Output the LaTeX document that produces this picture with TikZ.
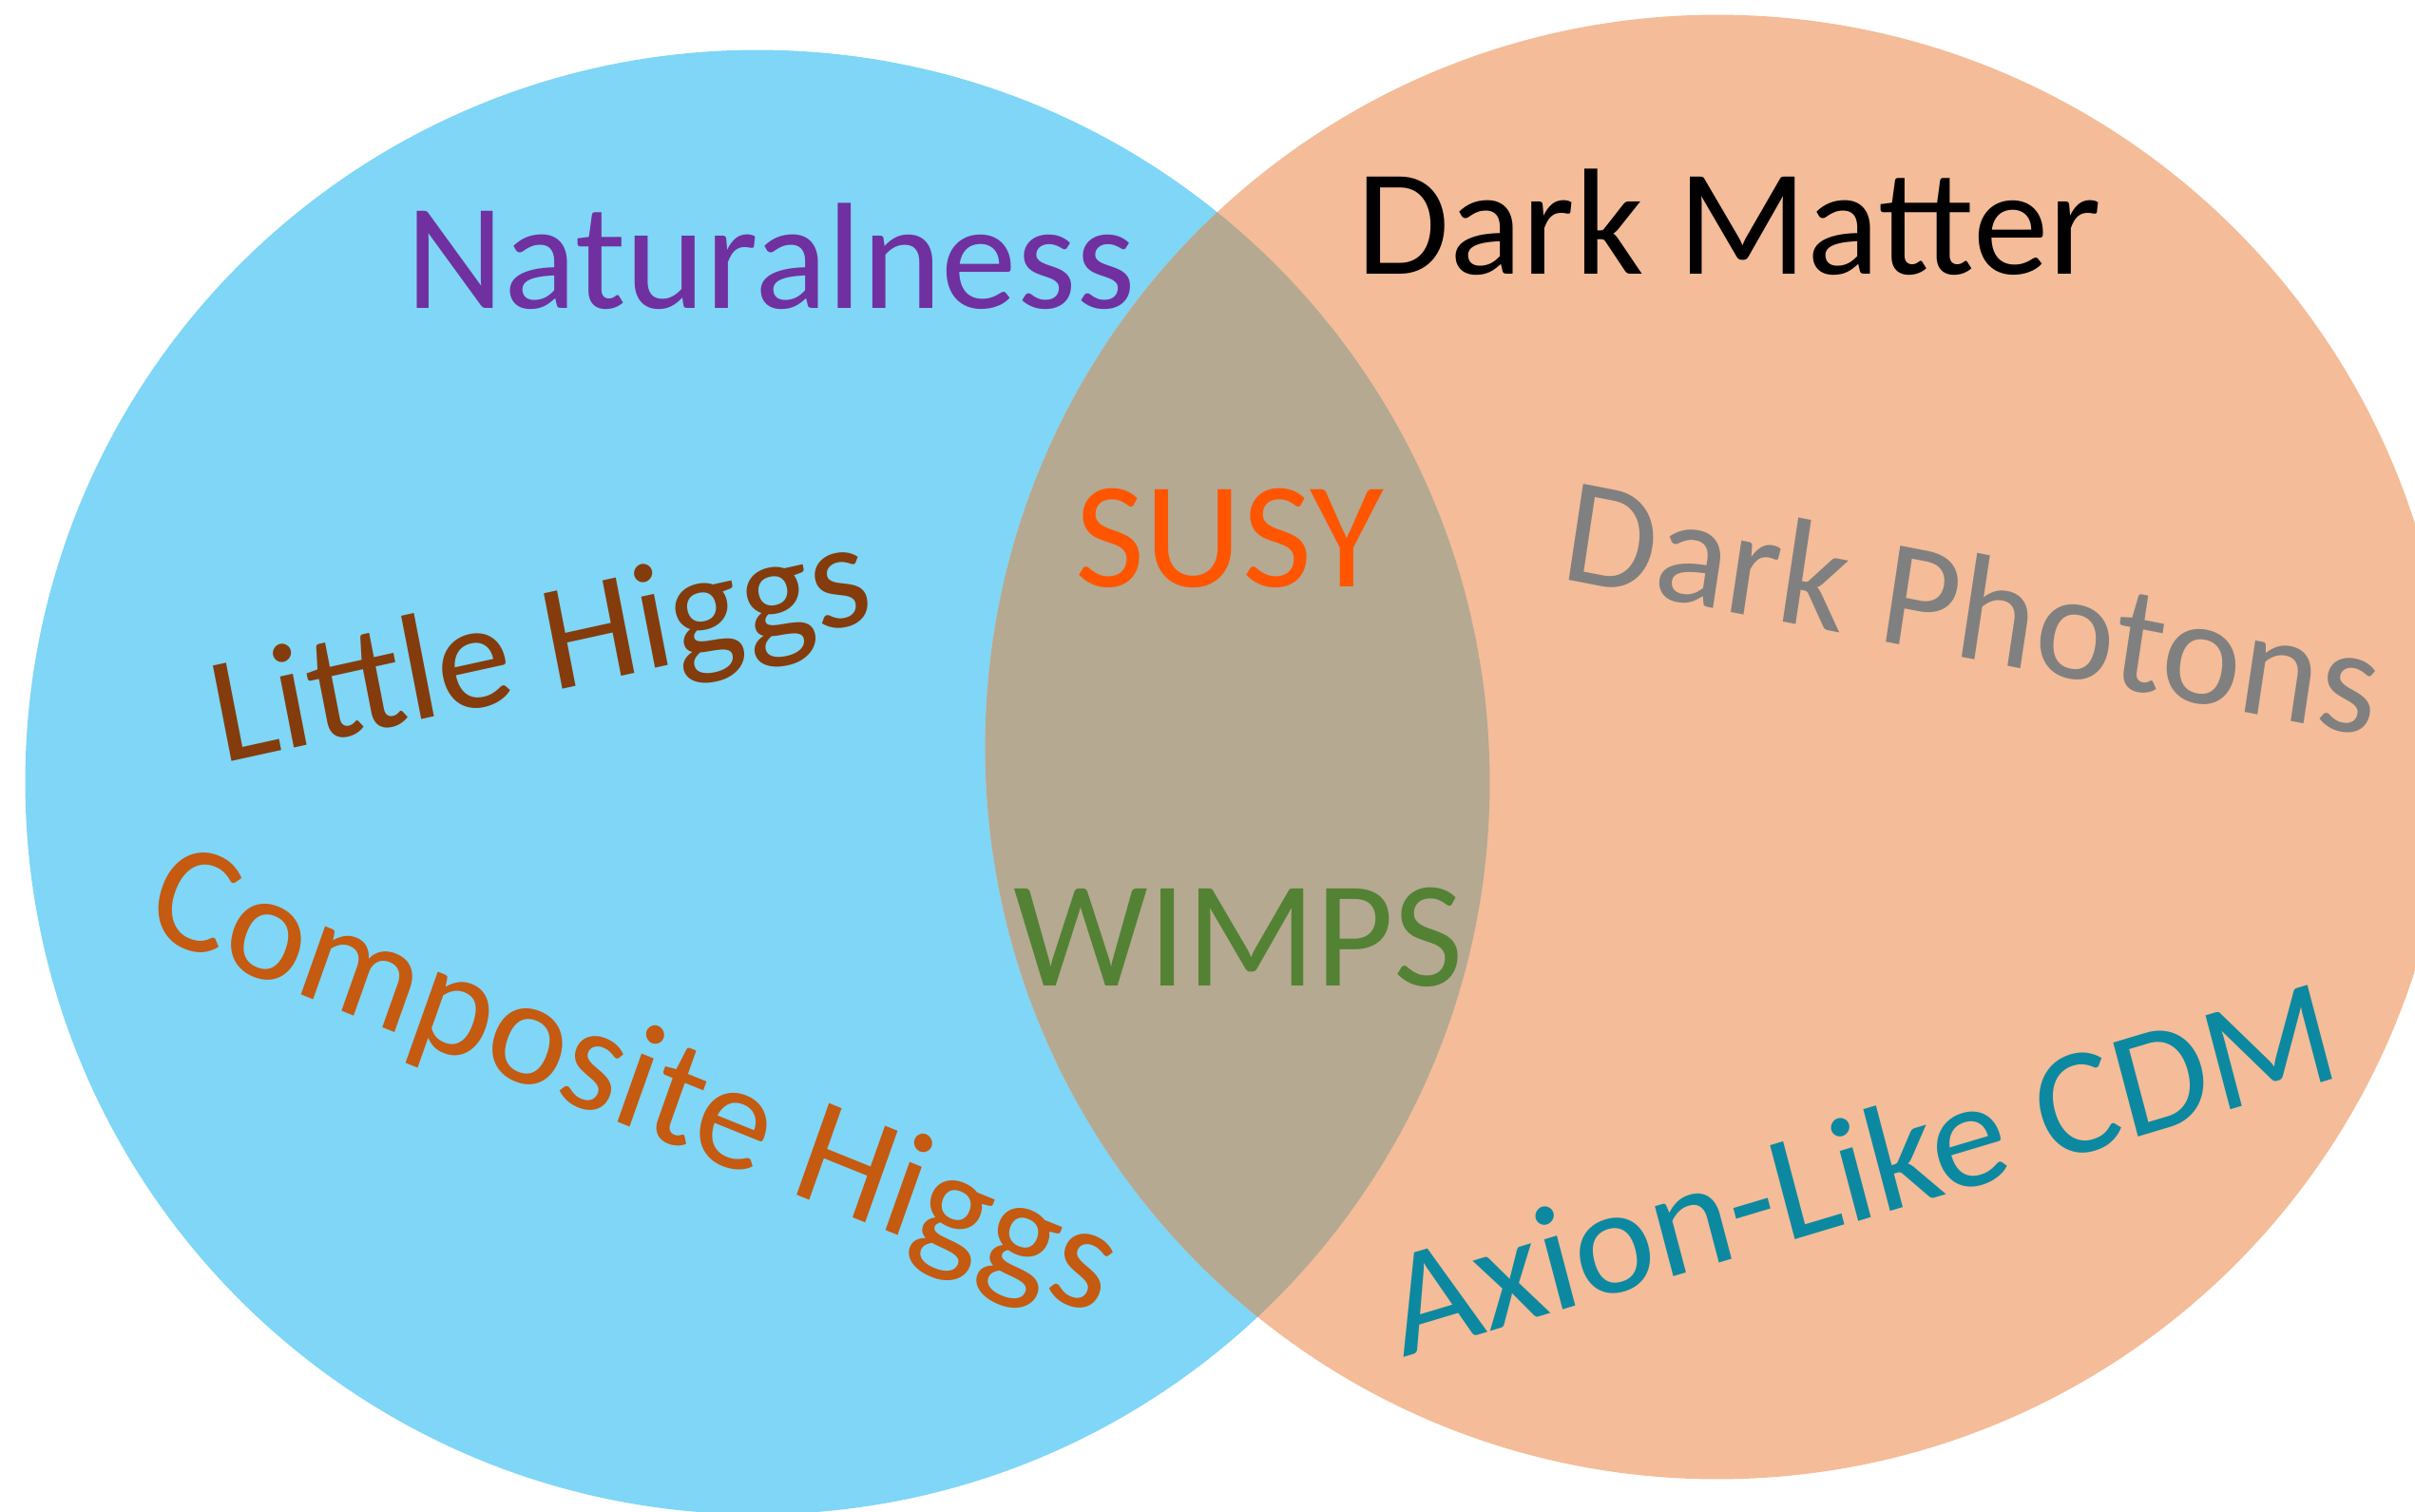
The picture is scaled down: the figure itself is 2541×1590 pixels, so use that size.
\documentclass[tikz,border=0pt]{standalone}
\usepackage{fontspec}
\setmainfont{Carlito}
\definecolor{cblue}{HTML}{7FD6F6}
\definecolor{corange}{HTML}{F4BC98}
\definecolor{cmix}{HTML}{B5A991}
\definecolor{cpurple}{HTML}{7030A0}
\definecolor{csusy}{HTML}{FF5500}
\definecolor{cwimp}{HTML}{548235}
\definecolor{clittle}{HTML}{843C0C}
\definecolor{ccomp}{HTML}{C55A11}
\definecolor{cphot}{HTML}{808080}
\definecolor{caxion}{HTML}{0C89A0}
\tikzset{
  lbl/.style={inner sep=0pt, anchor=base, font=\fontsize{45.3pt}{52pt}\selectfont}
}
\begin{document}
\begin{tikzpicture}[x=0.01cm, y=-0.01cm]
\useasboundingbox (0,0) rectangle (2541,1590);
\clip (0,0) rectangle (2541,1590);
% circles
\fill[cblue] (797,823) circle [radius=7.70cm];
\fill[corange] (1807,786) circle [radius=7.70cm];
\begin{scope}
  \clip (797,823) circle [radius=7.70cm];
  \fill[cmix] (1807,786) circle [radius=7.70cm];
\end{scope}
% horizontal labels
\node[lbl, text=cpurple] (nat) at (811,324) {Naturalness};
\node[lbl, text=black] (dm) at (1819,288) {Dark Matter};
\node[lbl, text=csusy] (susy) at (1294,617) {SUSY};
\node[lbl, text=cwimp] (wimps) at (1303,1037) {WIMPS};
% slanted labels
\node[lbl, text=clittle, cm={0.977,0.215,-0.191,0.982,(0,0)}] (little) at (578,728) {Little Higgs};
\node[lbl, text=cphot, cm={0.982,-0.191,0.148,0.989,(0,0)}] (phot) at (2068,692) {Dark Photons};
\node[lbl, text=ccomp, cm={0.931,-0.376,0.334,0.943,(0,0)}] (comp) at (652,1182) {Composite Higgs};
\node[lbl, text=caxion, cm={0.972,0.291,-0.255,0.967,(0,0)}] (axion) at (1972,1280) {Axion-Like CDM};
\end{tikzpicture}
\end{document}
